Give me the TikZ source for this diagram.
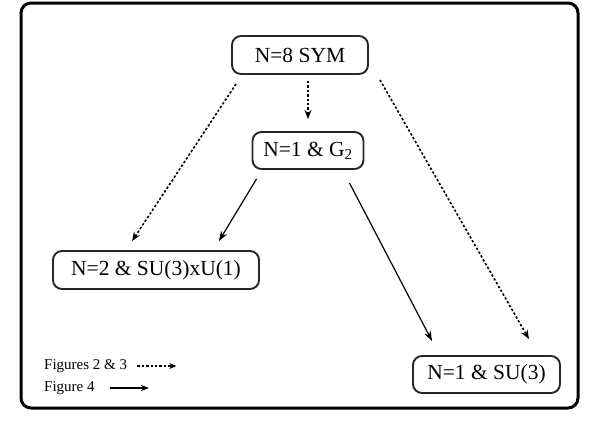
\documentclass[tikz,border=0pt]{standalone}
\usepackage{fontspec}
\setmainfont{Liberation Serif}
\usetikzlibrary{arrows.meta,calc}
\begin{document}
\begin{tikzpicture}[x=1pt,y=-1pt,
  box/.style={draw=black!85,line width=1.9pt,rounded corners=9pt,inner sep=0pt,
    font=\fontsize{21.5}{25}\selectfont},
  legtext/.style={inner sep=0pt,anchor=west,font=\fontsize{15}{18}\selectfont},
  dasharrow/.style={line width=1.6pt,dash pattern=on 2.4pt off 2pt,
    -{Stealth[length=9pt,width=7pt]}},
  solidarrow/.style={line width=1.2pt,-{Stealth[length=10pt,width=7pt]}},
  frame/.style={line width=3pt,rounded corners=10pt}]
\useasboundingbox (0,0) rectangle (599,424);
\draw[frame] (21,3) rectangle (578,408);
\node[box,minimum width=136pt,minimum height=38pt] (n8) at (300,55) {N=8 SYM};
\node[box,minimum width=111pt,minimum height=37pt] (g2) at (308,150.5) {N=1 \& G\textsubscript{2}};
\node[box,minimum width=206pt,minimum height=38pt] (n2) at (156,270) {N=2 \& SU(3)xU(1)};
\node[box,minimum width=147pt,minimum height=37pt] (su3) at (486.5,374.5) {N=1 \& SU(3)};
% connectors
\draw[dasharrow] ($(n8.south)+(8,6)$) -- ($(g2.north)+(0,-12)$);
\draw[dasharrow] ($(n8.south west)+(5,9)$) -- ($(n2.north west)+(80,-9)$);
\draw[dasharrow] ($(n8.south east)+(11,5)$) -- ($(su3.north east)+(-32,-16)$);
\draw[solidarrow] ($(g2.south west)+(5,9)$) -- ($(n2.north east)+(-41,-9)$);
\draw[solidarrow] ($(g2.south east)+(-15,13)$) -- ($(su3.north west)+(20,-14)$);
% legend
\node[legtext] (leg1) at (44,366) {Figures 2 \& 3};
\node[legtext] (leg2) at (44,388) {Figure 4};
\coordinate (l1s) at ($(leg1.east)+(10,0)$);
\coordinate (l1e) at ($(leg1.east)+(49,0)$);
\coordinate (l2s) at (110,388);
\coordinate (l2e) at (149,388);
\draw[dasharrow,line width=1.3pt,-{Stealth[length=7pt,width=6pt]}] (l1s) -- (l1e);
\draw[solidarrow,-{Stealth[length=8pt,width=6pt]}] (l2s) -- (l2e);
\end{tikzpicture}
\end{document}
